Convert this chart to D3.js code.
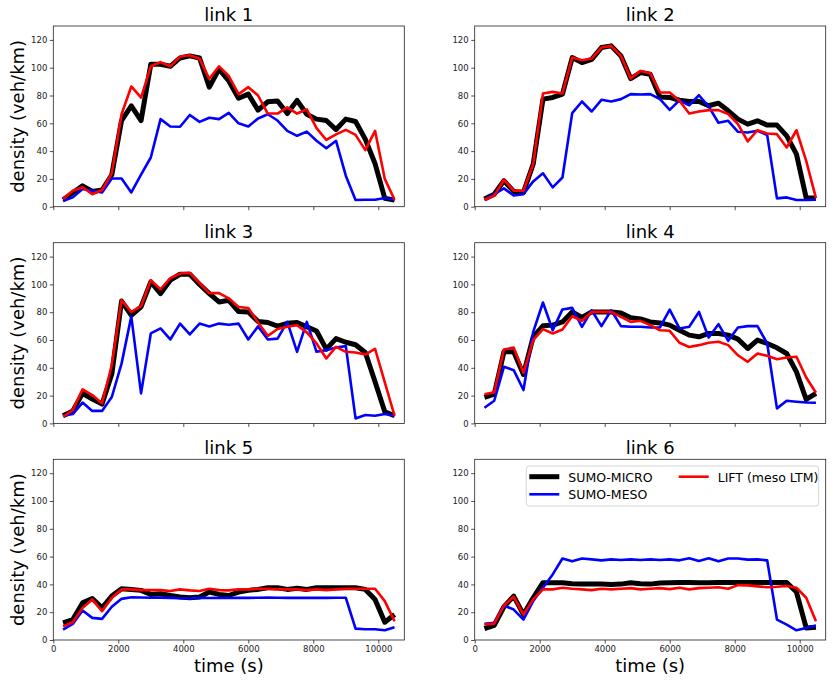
<!DOCTYPE html>
<html lang="en">
<head>
  <meta charset="UTF-8">
  <title>Link densities</title>
  <script src="https://d3js.org/d3.v7.min.js"></script>
  <style>
    body { margin: 0; background: #fff; font-family: "DejaVu Sans", sans-serif; }
    .axis text { font-size: 8.5px; fill: #222; font-family: "DejaVu Sans", sans-serif; }
    .axis path, .axis line { stroke: #222; stroke-width: 0.8; }
    .title { font-size: 18px; }
    .label { font-size: 18px; }
    .legend text { font-size: 12.5px; }
  </style>
</head>
<body>
  <svg width="832" height="684"></svg>
  <script>
    // time stamps (s)
    const times = [300, 600, 900, 1200, 1500, 1800, 2100, 2400, 2700, 3000, 3300, 3600, 3900, 4200, 4500,
      4800, 5100, 5400, 5700, 6000, 6300, 6600, 6900, 7200, 7500, 7800, 8100, 8400, 8700, 9000,
      9300, 9600, 9900, 10200, 10500];

    const linkNames = ["link 1", "link 2", "link 3", "link 4", "link 5", "link 6"];
    const seriesNames = ["SUMO-MICRO", "SUMO-MESO", "LIFT (meso LTM)"];
    const xTicks = [0, 2000, 4000, 6000, 8000, 10000];
    const yTicks = [0, 20, 40, 60, 80, 100, 120];

    // link 1
    const micro1 = [5, 10, 15, 11, 12, 23, 62, 72.5, 62, 102.5, 102.5, 101, 107, 108.5, 107, 86, 99, 90.5, 78, 81,
      69.5, 75.5, 76, 67, 76.5, 66.5, 63, 62, 55.5, 63, 61.3, 48.6, 31, 6, 4.8];
    const meso1 = [4, 6.7, 12.7, 11.5, 10.3, 20.3, 20.3, 10.3, 23, 35.4, 63, 57.7, 57.5, 66, 61, 64, 63, 67.5, 60, 57.7,
      63.5, 66.5, 62, 54.6, 51, 54, 47.4, 42, 47.4, 22.3, 4.8, 5, 5, 6.2, 5];
    const lift1 = [5.5, 11.5, 14, 9, 12, 24, 66.5, 86.5, 78.5, 101, 104, 101, 108, 109, 106.5, 92, 101, 94, 81, 86,
      80, 67, 67, 71.5, 67, 70, 56.5, 48, 52, 55.3, 51.7, 40.7, 54.6, 20, 5];

    // link 2
    const micro2 = [5.5, 9, 18.7, 11, 10.3, 30.7, 77.4, 78.6, 81, 107.3, 103.7, 106, 114.5, 115.7, 108.5, 92.2, 96.5, 95.3, 79, 78.6,
      76.6, 75.7, 75.7, 72.6, 74.5, 69, 63, 59.4, 61.8, 58.7, 58.7, 51, 37.8, 6.2, 6.2];
    const meso2 = [5, 9, 13.2, 8, 9, 18.2, 24, 13.9, 21, 67.3, 75.7, 68.5, 76.9, 75.7, 77.4, 81, 80.7, 81, 77.4, 69.7,
      76.6, 73, 80.2, 72, 60.4, 61.8, 53.9, 53.4, 54.6, 51.5, 6, 6.7, 4.8, 4.8, 5];
    const lift2 = [5, 8, 19.4, 11.5, 11.5, 30.7, 81.4, 82.6, 81.4, 107.3, 105.4, 106.6, 114.5, 115.7, 108.5, 92.2, 97.7, 96, 82.2, 82.2,
      76.2, 67, 68.5, 69.5, 69.5, 66.6, 59.4, 47, 55, 52.7, 52.2, 42.6, 55, 33, 6.2];

    // link 3
    const micro3 = [5.5, 9, 21.6, 17.5, 13.9, 35.5, 88, 77.8, 83.8, 101.8, 93.4, 103, 107.3, 107.3, 100, 93.4, 87.4, 88.6, 80.5, 80.2,
      73.3, 72.6, 70, 72, 72.6, 69.5, 66.5, 53.4, 61, 58.4, 56.6, 51, 30, 8.4, 5.5];
    const meso3 = [5.5, 6.7, 15, 9, 9, 19, 43, 77, 21.6, 64.7, 68.3, 60.4, 71.8, 64, 71.8, 69.8, 71.8, 71, 71.8, 60.4,
      69.8, 60.4, 61, 73, 51.5, 73, 51.5, 52.7, 54.6, 55.6, 3.6, 6, 5.5, 6.7, 5.5];
    const lift3 = [4.8, 9.6, 24.5, 20.4, 14.4, 42, 88.6, 80.2, 84.3, 103, 96.5, 104.5, 107.8, 108.3, 101, 93.7, 93.7, 90, 83.8, 83,
      72.6, 63, 67.9, 69.5, 70.7, 65.5, 57.5, 46.7, 55, 51.5, 51, 49.5, 53.7, 29.5, 5.5];

    // link 4
    const micro4 = [18.7, 21, 51.5, 51.5, 35.2, 62.3, 70.2, 70.7, 73, 80.2, 76.2, 80.2, 80.2, 80.2, 79.5, 76, 75.2, 73, 72.3, 70.7,
      67, 63.5, 62.3, 64.7, 64.7, 63.5, 60.6, 53.9, 59.9, 57.5, 54.4, 50.3, 37.1, 17.2, 21.6];
    const meso4 = [11.3, 16.3, 40.7, 38.3, 24, 65.9, 87, 67, 82, 83.1, 69.5, 81.4, 70, 81.4, 70, 69.5, 69.5, 69, 69, 81.9,
      68.3, 69.5, 80.2, 61.8, 71.4, 59.4, 69, 70, 70, 57.5, 10.8, 16.3, 15.6, 15, 14.9];
    const lift4 = [21, 22.3, 53.2, 54.6, 36.4, 59.9, 67.8, 64.7, 67.5, 77.1, 73.8, 80.2, 80.2, 80.2, 76.6, 73, 73.8, 70.7, 67, 66.6,
      58, 55, 56.3, 58, 58.7, 56.3, 49, 44.3, 50.3, 48.6, 46.2, 47.4, 47.9, 33, 22];

    // link 5
    const micro5 = [12.3, 14.7, 26.7, 29.9, 23.1, 31.6, 36.9, 36.4, 35.7, 32.8, 33.3, 32, 31, 30.4, 31, 34.5, 32.8, 32, 34.5, 35.7,
      36.4, 37.6, 37.6, 36.4, 37.3, 36.4, 37.6, 37.6, 37.6, 37.6, 37.6, 36.4, 29.2, 12.8, 18.3];
    const meso5 = [7.5, 11.6, 21.2, 15.9, 15.2, 23.9, 29.6, 30.8, 30.6, 30.4, 30.5, 30.3, 30, 29.9, 30.3, 30.2, 30.3, 30.2, 30.4, 30.3,
      30.4, 30.5, 30.4, 30.3, 30.4, 30.3, 30.4, 30.3, 30.4, 30.4, 8.2, 7.7, 7.7, 7, 9.2];
    const lift5 = [9.9, 12.8, 23.1, 29.2, 20.7, 30.4, 36.4, 36.4, 35.9, 35.9, 35.9, 35.2, 36.4, 35.7, 35.2, 36.9, 35.9, 35.7, 36.4, 36.4,
      36.9, 36.9, 36.4, 36.4, 36.4, 35.9, 36.4, 35.9, 36.4, 36.9, 36.9, 36.9, 36.9, 28, 13.5];

    // link 6
    const micro6 = [8.2, 10.6, 23.9, 31.6, 18.3, 30.4, 41.2, 41.2, 41.2, 40.5, 40.2, 40.2, 40.2, 40, 40.2, 41.2, 40.5, 40.2, 41, 41.2,
      41.4, 41.4, 41.2, 41.2, 41.4, 41.4, 41.4, 41.4, 41.4, 41.4, 41.4, 41.4, 34.5, 8.7, 9.2];
    const meso6 = [11.6, 12.3, 24.8, 21.9, 14.7, 28, 37.6, 47.2, 58.6, 56.6, 58.6, 58, 57.3, 58, 57.6, 58, 57.6, 58, 57.6, 58,
      57.3, 58.8, 56.9, 58.8, 56.6, 58.6, 58.6, 57.8, 58, 57.3, 14.7, 11.1, 7, 8.7, 10.4];
    const lift6 = [11.1, 11.8, 24.8, 31.1, 18.3, 29.2, 36.4, 36.4, 37.6, 36.9, 36.4, 35.9, 36.9, 36.4, 36.9, 37.3, 36.4, 36.9, 37.3, 36.6,
      37.6, 36.4, 37.3, 37.6, 38, 36.9, 39.5, 39.3, 38.6, 38, 38.3, 38.8, 37.6, 30.4, 13.5];

    const micro = [micro1, micro2, micro3, micro4, micro5, micro6];
    const meso = [meso1, meso2, meso3, meso4, meso5, meso6];
    const lift = [lift1, lift2, lift3, lift4, lift5, lift6];

    const colors = ["#000000", "#0000ff", "#ff0000"];
    const widths = [5, 2.6, 2.6];

    const colLeft = [53.3, 474.7];
    const rowTop = [26, 242.7, 459.3];
    const pw = 351, ph = 180.7;

    const svg = d3.select("svg");

    const x = d3.scaleLinear().domain([0, 10800]).range([0, pw]);
    const y = d3.scaleLinear().domain([0, 130]).range([ph, 0]);

    const line = d3.line()
      .x((d, i) => x(times[i]))
      .y(d => y(d));

    linkNames.forEach((name, idx) => {
      const col = idx % 2, row = Math.floor(idx / 2);
      const g = svg.append("g")
        .attr("transform", `translate(${colLeft[col]}, ${rowTop[row]})`);

      // x axis (labels only on bottom row)
      const xa = g.append("g")
        .attr("class", "axis")
        .attr("transform", `translate(0, ${ph})`)
        .call(d3.axisBottom(x).tickValues(xTicks).tickSize(3.5).tickPadding(2.5)
          .tickFormat(row === 2 ? d3.format("d") : () => ""));
      xa.select(".domain").remove();

      const ya = g.append("g")
        .attr("class", "axis")
        .call(d3.axisLeft(y).tickValues(yTicks).tickSize(3.5).tickPadding(2.5));
      ya.select(".domain").remove();

      const series = [micro[idx], meso[idx], lift[idx]];
      series.forEach((s, j) => {
        g.append("path")
          .datum(s)
          .attr("fill", "none")
          .attr("stroke", colors[j])
          .attr("stroke-width", widths[j])
          .attr("stroke-linejoin", "round")
          .attr("d", line);
      });

      // frame
      g.append("rect")
        .attr("width", pw).attr("height", ph)
        .attr("fill", "none").attr("stroke", "#222").attr("stroke-width", 0.8);

      g.append("text")
        .attr("class", "title")
        .attr("x", pw / 2).attr("y", -5)
        .attr("text-anchor", "middle")
        .text(name);

      if (col === 0) {
        g.append("text")
          .attr("class", "label")
          .attr("transform", `translate(${23.5 - colLeft[0]}, ${ph / 2}) rotate(-90)`)
          .attr("text-anchor", "middle")
          .text("density (veh/km)");
      }
      if (row === 2) {
        g.append("text")
          .attr("class", "label")
          .attr("x", pw / 2).attr("y", ph + 32)
          .attr("text-anchor", "middle")
          .text("time (s)");
      }

      // legend in last panel
      if (idx === 5) {
        const lg = g.append("g").attr("class", "legend")
          .attr("transform", `translate(${526.3 - colLeft[1]}, ${466 - rowTop[2]})`);
        lg.append("rect")
          .attr("width", 292.4).attr("height", 40).attr("rx", 3)
          .attr("fill", "#fff").attr("fill-opacity", 0.8)
          .attr("stroke", "#ccc").attr("stroke-width", 0.8);
        const entries = [
          { dx: 3, dy: 10.7 },
          { dx: 3, dy: 28.3 },
          { dx: 152.4, dy: 10.7 }
        ];
        entries.forEach((e, j) => {
          lg.append("line")
            .attr("x1", e.dx).attr("x2", e.dx + 30)
            .attr("y1", e.dy).attr("y2", e.dy)
            .attr("stroke", colors[j]).attr("stroke-width", widths[j]);
          lg.append("text")
            .attr("x", e.dx + 39).attr("y", e.dy + 5)
            .text(seriesNames[j]);
        });
      }
    });
  </script>
</body>
</html>
